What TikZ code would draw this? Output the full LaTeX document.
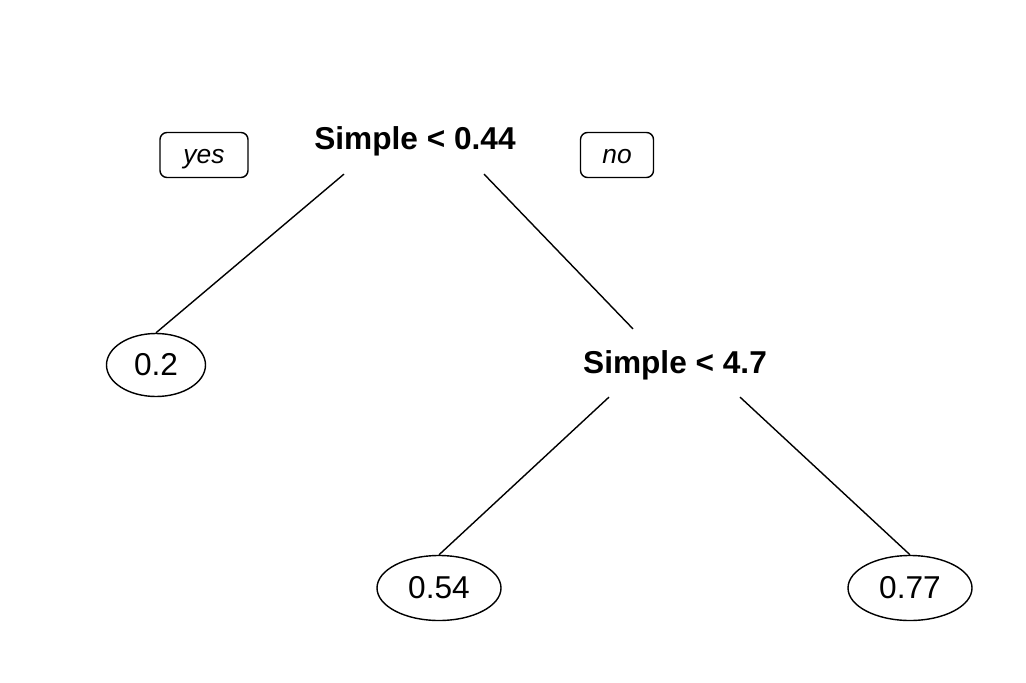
\documentclass[tikz,border=0pt]{standalone}
\usepackage{fontspec}
\setmainfont{Liberation Sans}
\usetikzlibrary{positioning, shapes.geometric, calc}

\tikzset{
  splitlabel/.style={font=\fontsize{18}{20}\selectfont\bfseries, inner sep=0pt},
  leafnode/.style={draw, ellipse, line width=0.8pt, inner sep=0pt,
    font=\fontsize{18}{20}\selectfont},
  answerbox/.style={draw, rounded corners=4pt, line width=0.8pt, inner sep=0pt,
    text height=11pt, text depth=1pt, font=\fontsize{15}{17}\selectfont\itshape},
  branch/.style={line width=0.8pt}
}

\begin{document}
\begin{tikzpicture}[x=0.02cm, y=-0.02cm]
  \useasboundingbox (0,0) rectangle (1026,682);

  % Splits
  \node[splitlabel] (root) at (415,141) {Simple < 0.44};
  \node[splitlabel] (split2) at (675,365) {Simple < 4.7};

  % yes / no
  \node[answerbox, minimum width=88*0.02cm, minimum height=45*0.02cm] (yes) at (204,155) {yes};
  \node[answerbox, minimum width=73*0.02cm, minimum height=45*0.02cm] (no) at (617,155) {no};

  % Leaves
  \node[leafnode, minimum width=99*0.02cm, minimum height=63*0.02cm] (leafA) at (156,365) {0.2};
  \node[leafnode, minimum width=124*0.02cm, minimum height=65*0.02cm] (leafB) at (439,588) {0.54};
  \node[leafnode, minimum width=124*0.02cm, minimum height=65*0.02cm] (leafC) at (910,588) {0.77};

  % Branch ends
  \coordinate (rootL) at ($(root.south)+(-71,18)$);
  \coordinate (rootR) at ($(root.south)+(69,18)$);
  \coordinate (split2T) at ($(split2.north)+(-42,-21)$);
  \coordinate (split2L) at ($(split2.south)+(-66,17)$);
  \coordinate (split2R) at ($(split2.south)+(65,17)$);

  \draw[branch] (rootL) -- (leafA.north);
  \draw[branch] (rootR) -- (split2T);
  \draw[branch] (split2L) -- (leafB.north);
  \draw[branch] (split2R) -- (leafC.north);
\end{tikzpicture}
\end{document}
